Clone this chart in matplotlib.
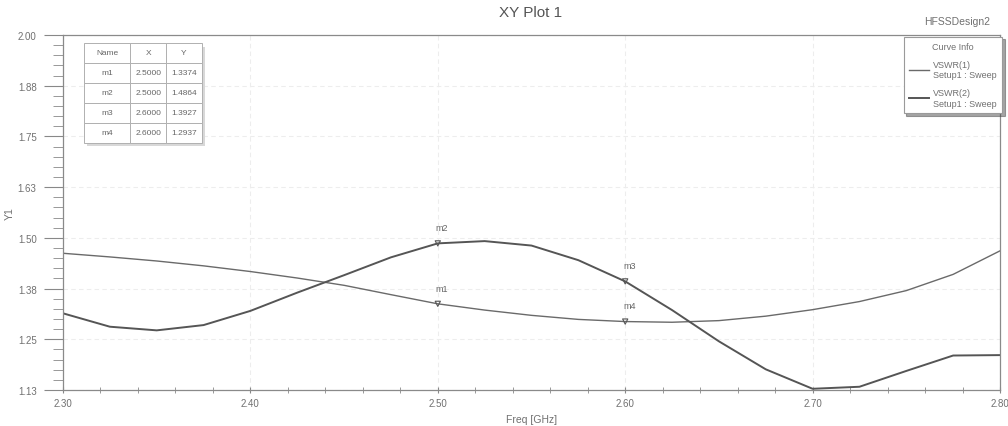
import numpy as np
import matplotlib.pyplot as plt
from matplotlib.ticker import MultipleLocator, FormatStrFormatter

plt.rcParams['font.family'] = ['Liberation Sans', 'DejaVu Sans']

freq = [2.300, 2.325, 2.350, 2.375, 2.400, 2.425, 2.450, 2.475, 2.500, 2.525, 2.550,
        2.575, 2.600, 2.625, 2.650, 2.675, 2.700, 2.725, 2.750, 2.775, 2.800]
vswr1 = [1.462, 1.453, 1.443, 1.431, 1.417, 1.401, 1.383, 1.360, 1.3374, 1.322, 1.309,
         1.299, 1.2937, 1.292, 1.296, 1.307, 1.323, 1.343, 1.370, 1.410, 1.468]
vswr2 = [1.314, 1.281, 1.272, 1.285, 1.320, 1.365, 1.408, 1.452, 1.4864, 1.492, 1.481,
         1.445, 1.3927, 1.322, 1.245, 1.176, 1.128, 1.133, 1.172, 1.210, 1.211]

marker_names = ['m1', 'm2', 'm3', 'm4']
marker_x = [2.5000, 2.5000, 2.6000, 2.6000]
marker_y = [1.3374, 1.4864, 1.3927, 1.2937]

yticks = [1.125, 1.25, 1.375, 1.5, 1.625, 1.75, 1.875, 2.0]
ytick_labels = ['1.13', '1.25', '1.38', '1.50', '1.63', '1.75', '1.88', '2.00']

txt = '#707070'
line_c = '#555555'

fig = plt.figure(figsize=(10.08, 4.27), dpi=100)
ax = fig.add_axes([63 / 1008, 36 / 427, 937 / 1008, 355 / 427])

ax.plot(freq, vswr1, color='#6a6a6a', lw=1.0, label='VSWR(1)\nSetup1 : Sweep')
ax.plot(freq, vswr2, color=line_c, lw=1.4, label='VSWR(2)\nSetup1 : Sweep')

ax.set_xlim(2.30, 2.80)
ax.set_ylim(1.125, 2.0)
ax.xaxis.set_major_locator(MultipleLocator(0.1))
ax.xaxis.set_minor_locator(MultipleLocator(0.02))
ax.xaxis.set_major_formatter(FormatStrFormatter('%.2f'))
ax.set_yticks(yticks)
ax.set_yticklabels(ytick_labels)
ax.yaxis.set_minor_locator(MultipleLocator(0.025))
ax.tick_params(which='both', colors='#888888', labelcolor=txt, labelsize=7)
ax.tick_params(axis='y', which='major', length=14, direction='out', pad=5)
ax.tick_params(axis='y', which='minor', length=7, direction='out')
ax.tick_params(axis='x', which='major', length=5, direction='inout')
ax.tick_params(axis='x', which='minor', length=4, direction='inout')
ax.grid(True, which='major', color='#ededed', lw=0.8, ls=(0, (4, 3)))
for s in ax.spines.values():
    s.set_color('#8a8a8a')
    s.set_linewidth(0.9)

ax.set_xlabel('Freq [GHz]', color=txt, fontsize=7.5, labelpad=4)
ax.set_ylabel('Y1', color=txt, fontsize=7.5)
ax.yaxis.set_label_coords(-0.052, 0.5)
fig.text(531 / 1008, 1 - 13 / 427, 'XY Plot 1', ha='center', va='center', fontsize=11, color='#555555')
fig.text(957 / 1008, 1 - 22 / 427, 'HFSSDesign2', ha='center', va='center', fontsize=7.5, color=txt)

# markers
ax.scatter(marker_x, marker_y, marker='v', s=14, facecolors='none', edgecolors='#555555',
           linewidths=0.8, zorder=4)
for n, mx, my in zip(marker_names, marker_x, marker_y):
    ax.annotate(n, (mx, my), xytext=(3, 8), textcoords='offset points', fontsize=6.5,
                color='#666666', ha='center', va='bottom')

# marker table
cells = [[n, f'{mx:.4f}', f'{my:.4f}'] for n, mx, my in zip(marker_names, marker_x, marker_y)]
tab = ax.table(cellText=cells, colLabels=['Name', 'X', 'Y'], cellLoc='center',
               colWidths=[0.05, 0.038, 0.038], bbox=[0.022, 0.697, 0.126, 0.281], zorder=5)
tab.auto_set_font_size(False)
for (r, c), cell in tab.get_celld().items():
    cell.set_fontsize(6)
    cell.set_edgecolor('#b0b0b0')
    cell.set_linewidth(0.7)
    cell.set_facecolor('white')
    cell.get_text().set_color('#666666')
shadow = plt.Rectangle((0.026, 0.686), 0.126, 0.281, transform=ax.transAxes,
                       facecolor='#d8d8d8', edgecolor='none', zorder=4.5)
ax.add_patch(shadow)

# curve info legend
leg = ax.legend(title='Curve Info', loc='upper right', bbox_to_anchor=(1007 / 1008, 1 - 33 / 427),
                bbox_transform=fig.transFigure, fontsize=6.5, title_fontsize=6.5,
                handlelength=2.2, handletextpad=0.5, borderpad=0.6, labelspacing=1.0,
                frameon=True, fancybox=False, shadow=True)
leg.get_frame().set_edgecolor('#9a9a9a')
leg.get_frame().set_linewidth(0.8)
for t in leg.get_texts():
    t.set_color(txt)
leg.get_title().set_color(txt)

fig.savefig('out.png', dpi=100, facecolor='white')
